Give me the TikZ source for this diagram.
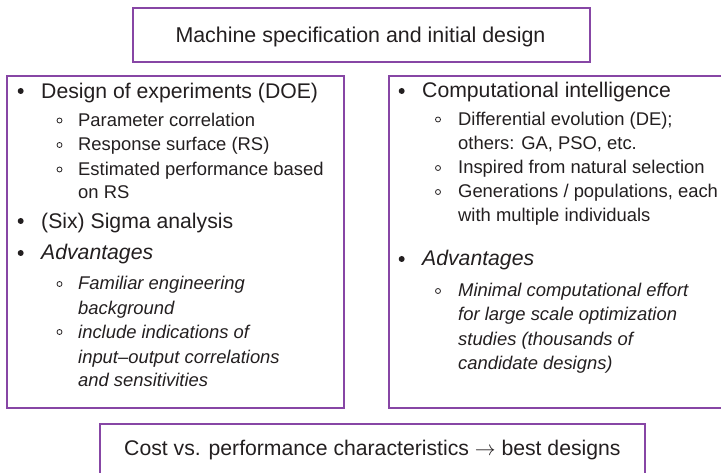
\documentclass[tikz,border=0pt]{standalone}
\usepackage{fontspec}
\setmainfont{Liberation Sans}
\definecolor{boxpurple}{RGB}{135,70,165}
\definecolor{txt}{RGB}{35,31,32}
\tikzset{
  frame/.style={draw=boxpurple, line width=1.8pt},
  lone/.style={anchor=base west, inner sep=0pt, text=txt, font=\fontsize{21.2}{24}\selectfont},
  ltwo/.style={anchor=base west, inner sep=0pt, text=txt, font=\fontsize{18.4}{22}\selectfont},
  ltwoit/.style={ltwo, font=\fontsize{18.4}{22}\selectfont\itshape},
  bigbul/.style={circle, fill=txt, inner sep=0pt, minimum size=6pt},
  smallbul/.style={circle, draw=txt, line width=0.8pt, inner sep=0pt, minimum size=5pt},
}
\begin{document}
\begin{tikzpicture}[x=1pt,y=-1pt]
\useasboundingbox (0,0) rectangle (721,473);
\begin{scope}
\clip (0,0) rectangle (721,473);
\fill[white] (0,0) rectangle (721,473);
% boxes
\node[frame, inner sep=0pt, minimum width=457pt, minimum height=54pt, anchor=north west] (top) at (132,7) {};
\node[frame, inner sep=0pt, minimum width=337pt, minimum height=332pt, anchor=north west] (left) at (6,75) {};
\node[frame, inner sep=0pt, minimum width=360pt, minimum height=332pt, anchor=north west] (right) at (388,75) {};
\node[frame, inner sep=0pt, minimum width=545pt, minimum height=70pt, anchor=north west] (bottom) at (99,423) {};
% top text
\node[lone, font=\fontsize{21.4}{24}\selectfont, anchor=base] (toptxt) at (360.5,43) {Machine specification and initial design};
% bottom text
\node[lone, anchor=base west] (bottxt) at (124,455) {Cost vs. performance characteristics $\rightarrow$ best designs};
% left box
\node[bigbul] (lb1) at (20.7,91) {};
\node[lone] (l1) at (41,98.3) {Design of experiments (DOE)};
\node[smallbul] (ls1) at (59.5,120.5) {};
\node[ltwo] (l2) at (78,126.7) {Parameter correlation};
\node[smallbul] (ls2) at (59.5,145) {};
\node[ltwo] (l3) at (78,151) {Response surface (RS)};
\node[smallbul] (ls3) at (59.5,169.5) {};
\node[ltwo] (l4) at (78,175.7) {Estimated performance based};
\node[ltwo] (l5) at (78,199) {on RS};
\node[bigbul] (lb2) at (20.7,221) {};
\node[lone] (l6) at (41,228.3) {(Six) Sigma analysis};
\node[bigbul] (lb3) at (20.7,253) {};
\node[lone, font=\fontsize{21.2}{24}\selectfont\itshape] (l7) at (41,260) {Advantages};
\node[smallbul] (ls4) at (59.5,284) {};
\node[ltwoit] (l8) at (78,290) {Familiar engineering};
\node[ltwoit] (l9) at (78,315) {background};
\node[smallbul] (ls5) at (59.5,332) {};
\node[ltwoit] (l10) at (78,338) {include indications of};
\node[ltwoit] (l11) at (78,363) {input--output correlations};
\node[ltwoit] (l12) at (78,387) {and sensitivities};
% right box
\node[bigbul] (rb1) at (401.7,91) {};
\node[lone] (r1) at (422,98) {Computational intelligence};
\node[smallbul] (rs1) at (438,119.5) {};
\node[ltwo] (r2) at (458,125.5) {Differential evolution (DE);};
\node[ltwo] (r3) at (458,149.5) {others: GA, PSO, etc.};
\node[smallbul] (rs2) at (438,168) {};
\node[ltwo] (r4) at (458,174) {Inspired from natural selection};
\node[smallbul] (rs3) at (438,192) {};
\node[ltwo] (r5) at (458,198) {Generations / populations, each};
\node[ltwo] (r6) at (458,222) {with multiple individuals};
\node[bigbul] (rb2) at (401.7,259) {};
\node[lone, font=\fontsize{21.2}{24}\selectfont\itshape] (r7) at (422,266) {Advantages};
\node[smallbul] (rs4) at (438,291) {};
\node[ltwoit] (r8) at (458,297) {Minimal computational effort};
\node[ltwoit] (r9) at (458,320.5) {for large scale optimization};
\node[ltwoit] (r10) at (458,345) {studies (thousands of};
\node[ltwoit] (r11) at (458,369.5) {candidate designs)};
\end{scope}
\end{tikzpicture}
\end{document}
